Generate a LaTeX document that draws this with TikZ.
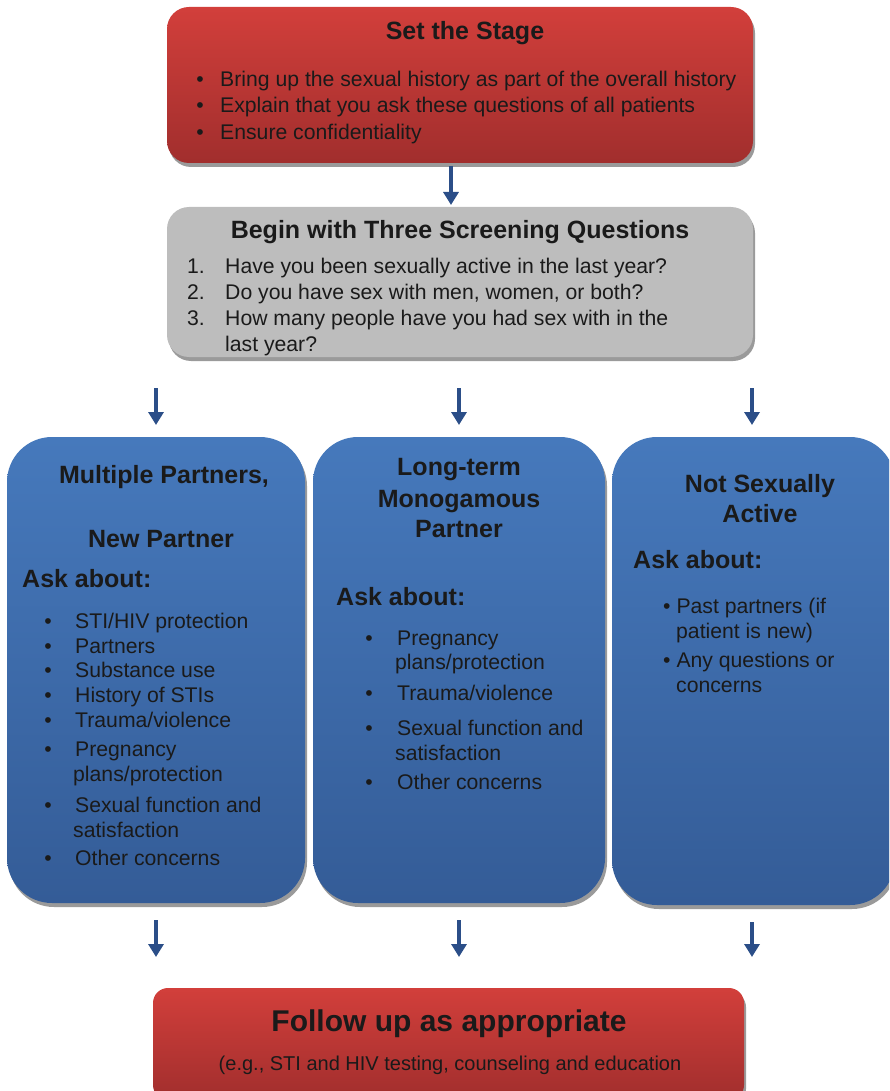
\documentclass[tikz,border=0pt]{standalone}
\usepackage{fontspec}
\setmainfont{Liberation Sans}
\usetikzlibrary{arrows.meta,shadows}

\definecolor{redtop}{HTML}{D23F3B}
\definecolor{redbot}{HTML}{A12E2D}
\definecolor{greybox}{HTML}{BDBDBD}
\definecolor{bluetop}{HTML}{4679BC}
\definecolor{bluebot}{HTML}{345C97}
\definecolor{arrowblue}{HTML}{2B4E88}
\definecolor{ink}{HTML}{1A1A1A}
\definecolor{shadowgrey}{HTML}{9A9A9A}

\tikzset{
  box/.style={rectangle, inner sep=0pt, outer sep=0pt,
    drop shadow={shadow xshift=2pt, shadow yshift=-4pt, fill=shadowgrey, opacity=1}},
  redbox/.style={box, rounded corners=22pt, top color=redtop, bottom color=redbot},
  greyboxst/.style={box, rounded corners=22pt, fill=greybox},
  bluebox/.style={box, rounded corners=45pt, top color=bluetop, bottom color=bluebot},
  arr/.style={draw=arrowblue, line width=4.5pt, -{Triangle[width=15pt,length=13pt]}},
  body/.style={inner sep=0pt, text=ink, font=\fontsize{21.2}{25}\selectfont},
  head/.style={inner sep=0pt, text=ink, font=\fontsize{25}{30}\selectfont\bfseries},
}

\begin{document}
\begin{tikzpicture}[x=1pt, y=-1pt]
\useasboundingbox (0,0) rectangle (889,1091);
\clip (0,0) rectangle (889,1091);

% boxes
\node[redbox, minimum width=586pt, minimum height=156pt] (stage) at (460,85) {};
\node[greyboxst, minimum width=586pt, minimum height=150pt] (screen) at (460,282) {};
\node[bluebox, minimum width=298pt, minimum height=466pt] (multi) at (156,670) {};
\node[bluebox, minimum width=292pt, minimum height=466pt] (mono) at (459,670) {};
\node[bluebox, minimum width=283pt, minimum height=468pt] (none) at (753.5,671) {};
\node[redbox, rounded corners=15pt, minimum width=591pt, minimum height=112pt] (follow) at (448.5,1044) {};

% connectors
\draw[arr, shorten <=3pt, shorten >=2pt] ([xshift=-9pt]stage.south) -- ([xshift=-9pt]screen.north);
\draw[arr, shorten <=31pt, shorten >=12pt] (screen.south -| multi.north) -- (multi.north);
\draw[arr, shorten <=31pt, shorten >=12pt] (screen.south -| mono.north) -- (mono.north);
\draw[arr, shorten <=31pt, shorten >=12pt] ([xshift=-1.5pt]screen.south -| none.north) -- ([xshift=-1.5pt]none.north);
\draw[arr, shorten <=17pt, shorten >=31pt] (multi.south) -- (multi.south |- follow.north);
\draw[arr, shorten <=17pt, shorten >=31pt] (mono.south) -- (mono.south |- follow.north);
\draw[arr, shorten <=17pt, shorten >=31pt] ([xshift=-1.5pt]none.south) -- ([xshift=-1.5pt]none.south |- follow.north);

% Set the Stage
\node[head, anchor=base] (stageT) at (465,40) {Set the Stage};
\foreach \yy/\tx [count=\i] in {87/{Bring up the sexual history as part of the overall history},
                                113/{Explain that you ask these questions of all patients},
                                140/{Ensure confidentiality}}{
  \node[body, anchor=base] (stageB\i) at (200,\yy) {•};
  \node[body, anchor=base west] (stageL\i) at (220,\yy) {\tx};
}

% Screening questions
\node[head, anchor=base] (screenT) at (460,239) {Begin with Three Screening Questions};
\foreach \yy/\nm/\tx [count=\i] in {273/1./{Have you been sexually active in the last year?},
                                    299/2./{Do you have sex with men, women, or both?},
                                    325/3./{How many people have you had sex with in the}}{
  \node[body, anchor=base west] (screenN\i) at (187,\yy) {\nm};
  \node[body, anchor=base west] (screenL\i) at (225,\yy) {\tx};
}
\node[body, anchor=base west] (screenL4) at (225,351) {last year?};

% Multiple partners
\node[head, anchor=base] (multiT1) at (164,483) {Multiple Partners,};
\node[head, anchor=base] (multiT2) at (161,547) {New Partner};
\node[head, anchor=base west] (multiA) at (22,587) {Ask about:};
\foreach \yy/\tx [count=\i] in {628/{STI/HIV protection}, 653/{Partners}, 677/{Substance use},
                                702/{History of STIs}, 727/{Trauma/violence}, 756/{Pregnancy},
                                812/{Sexual function and}, 865/{Other concerns}}{
  \node[body, anchor=base] (multiB\i) at (48,\yy) {•};
  \node[body, anchor=base west] (multiL\i) at (75,\yy) {\tx};
}
\node[body, anchor=base west] (multiC1) at (73,781) {plans/protection};
\node[body, anchor=base west] (multiC2) at (73,837) {satisfaction};

% Long-term monogamous partner
\node[head, anchor=base] (monoT1) at (459,475) {Long-term};
\node[head, anchor=base] (monoT2) at (459,507) {Monogamous};
\node[head, anchor=base] (monoT3) at (459,537) {Partner};
\node[head, anchor=base west] (monoA) at (336,605) {Ask about:};
\foreach \yy/\tx [count=\i] in {645/{Pregnancy}, 700/{Trauma/violence}, 735/{Sexual function and}, 789/{Other concerns}}{
  \node[body, anchor=base] (monoB\i) at (369,\yy) {•};
  \node[body, anchor=base west] (monoL\i) at (397,\yy) {\tx};
}
\node[body, anchor=base west] (monoC1) at (395,669) {plans/protection};
\node[body, anchor=base west] (monoC2) at (395,760) {satisfaction};

% Not sexually active
\node[head, anchor=base] (noneT1) at (760,492) {Not Sexually};
\node[head, anchor=base] (noneT2) at (760,522) {Active};
\node[head, anchor=base west] (noneA) at (633,568) {Ask about:};
\node[body, anchor=base west] (noneL1) at (663,613) {• Past partners (if};
\node[body, anchor=base west] (noneC1) at (676,638) {patient is new)};
\node[body, anchor=base west] (noneL2) at (663,667) {• Any questions or};
\node[body, anchor=base west] (noneC2) at (676,692) {concerns};

% Follow up
\node[inner sep=0pt, text=ink, font=\fontsize{30}{34}\selectfont\bfseries, anchor=base] (followT) at (449,1031) {Follow up as appropriate};
\node[inner sep=0pt, text=ink, font=\fontsize{20}{24}\selectfont, anchor=base] (followS) at (450,1070) {(e.g., STI and HIV testing, counseling and education};
\end{tikzpicture}
\end{document}
